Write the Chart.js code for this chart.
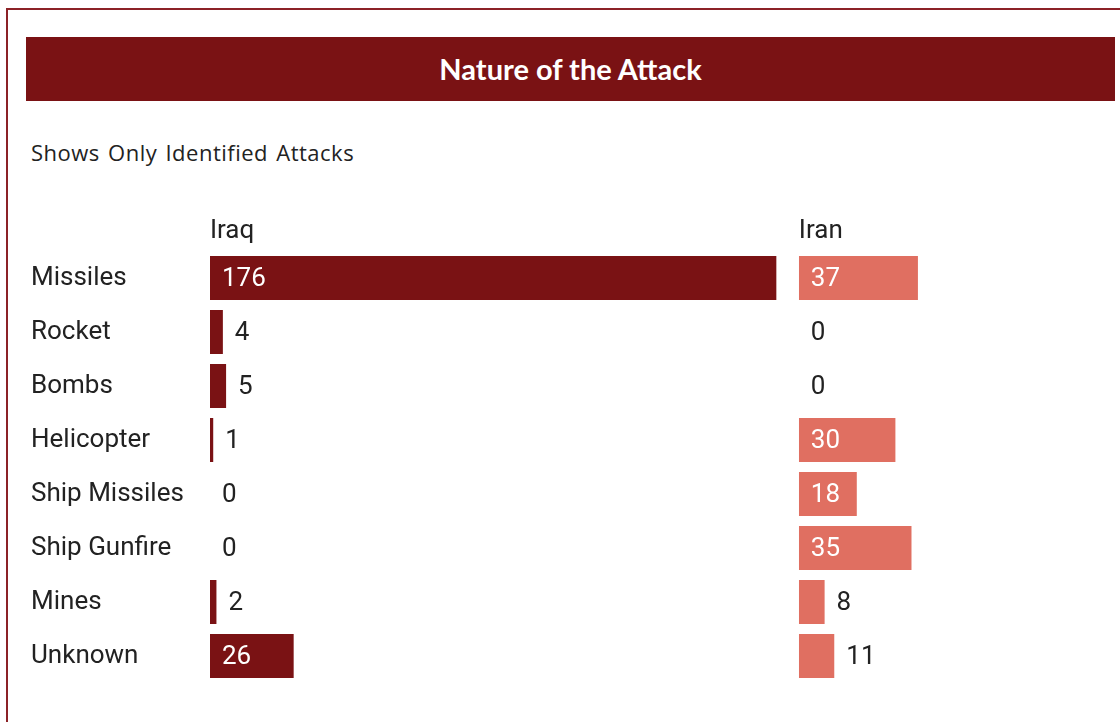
<!DOCTYPE html>
<html>
<head>
<meta charset="utf-8">
<title>Nature of the Attack</title>
<script src="https://cdn.jsdelivr.net/npm/chart.js@4.4.1/dist/chart.umd.min.js"></script>
<style>
  html, body { margin: 0; padding: 0; background: #fff; }
  body { width: 1120px; height: 722px; position: relative; overflow: hidden; }
  .frame {
    position: absolute; left: 6px; top: 8px; width: 1200px; height: 800px;
    border: 2px solid #8c2227; box-sizing: border-box;
  }
  .banner {
    position: absolute; left: 26px; top: 37px; width: 1089px; height: 64px;
    background: #7a1214; color: #fff; text-align: center;
    font: bold 29px Lato, "Open Sans", sans-serif; line-height: 64px;
  }
  .sub {
    position: absolute; left: 31px; top: 137px;
    font: 22px "Open Sans", Lato, sans-serif; letter-spacing: 0.5px; word-spacing: 2px; color: #222;
  }
  #wrap { position: absolute; left: 0; top: 0; width: 1120px; height: 722px; }
</style>
</head>
<body>
<div class="frame"></div>
<div class="banner">Nature of the Attack</div>
<div class="sub">Shows Only Identified Attacks</div>
<div id="wrap"><canvas id="myChart"></canvas></div>
<script>
var categories = ['Missiles', 'Rocket', 'Bombs', 'Helicopter', 'Ship Missiles', 'Ship Gunfire', 'Mines', 'Unknown'];
var iraq = [176, 4, 5, 1, 0, 0, 2, 26];
var iran = [37, 0, 0, 30, 18, 35, 8, 11];
var columns = ['Iraq', 'Iran'];
// axis ranges, kept in the same units per pixel so the two columns compare
var iraqMax = 183;
var iranMax = 97;

var dark = '#7a1214';
var light = '#e06f61';
var txt = '#222';
var font = { family: 'Roboto', size: 26 };

// value labels: inside the bar in white if it fits, otherwise just past the end
var valueLabels = {
    id: 'valueLabels',
    afterDatasetsDraw: function(chart) {
        var ctx = chart.ctx;
        ctx.save();
        ctx.font = '26px Roboto';
        ctx.textBaseline = 'middle';
        ctx.textAlign = 'left';
        chart.data.datasets.forEach(function(ds, di) {
            var meta = chart.getDatasetMeta(di);
            meta.data.forEach(function(bar, i) {
                var label = String(ds.data[i]);
                var w = ctx.measureText(label).width;
                var len = Math.abs(bar.x - bar.base);
                var start = Math.min(bar.x, bar.base);
                if (len > w + 24) {
                    ctx.fillStyle = '#fff';
                    ctx.fillText(label, start + 12, bar.y + 1);
                } else {
                    ctx.fillStyle = txt;
                    ctx.fillText(label, start + len + 12, bar.y + 1);
                }
            });
        });
        ctx.restore();
    }
};

function colAxis(title, max, order) {
    return {
        type: 'linear',
        position: 'top',
        stack: 'cols',
        stackWeight: max,
        weight: order,
        min: 0,
        max: max,
        grid: { display: false },
        border: { display: false },
        ticks: { display: false },
        title: {
            display: true, text: title, align: 'start',
            color: txt, font: font, padding: { top: 13, bottom: 0 }
        },
        afterFit: function(scale) { scale.height = 48; }
    };
}

var ctx = document.getElementById('myChart').getContext('2d');
var myChart = new Chart(ctx, {
    type: 'bar',
    data: {
        labels: categories,
        datasets: [{
            label: columns[0],
            data: iraq,
            xAxisID: 'xIraq',
            stack: 'row',
            backgroundColor: dark,
            barPercentage: 44 / 54,
            categoryPercentage: 1
        }, {
            label: columns[1],
            data: iran,
            xAxisID: 'xIran',
            stack: 'row',
            backgroundColor: light,
            barPercentage: 44 / 54,
            categoryPercentage: 1
        }]
    },
    options: {
        indexAxis: 'y',
        responsive: true,
        maintainAspectRatio: false,
        animation: false,
        layout: { padding: { left: 31, right: 9, top: 203, bottom: 39 } },
        scales: {
            y: {
                grid: { display: false },
                border: { display: false },
                ticks: { color: txt, font: font, crossAlign: 'far', padding: 0 },
                afterFit: function(scale) { scale.width = 179; }
            },
            xIraq: colAxis(columns[0], iraqMax, 2),
            xIran: colAxis(columns[1], iranMax, 1)
        },
        plugins: {
            legend: { display: false },
            tooltip: { enabled: false }
        }
    },
    plugins: [valueLabels]
});
</script>
</body>
</html>
